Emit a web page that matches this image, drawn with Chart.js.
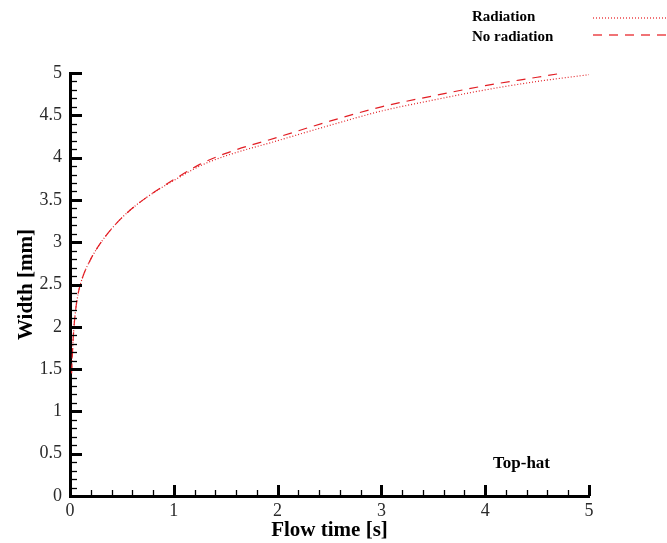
<!DOCTYPE html>
<html>
<head>
<meta charset="utf-8">
<script src="https://cdn.jsdelivr.net/npm/chart.js@4.4.1/dist/chart.umd.min.js"></script>
<style>
  html, body { margin: 0; padding: 0; background: #fff; }
  #wrap { width: 667px; height: 543px; }
</style>
</head>
<body>
<div id="wrap"><canvas id="widthChart" width="667" height="543"></canvas></div>
<script>
// flow time [s] and width [mm]
var timeRad = [0.015, 0.03, 0.05, 0.08, 0.12, 0.2, 0.3, 0.43, 0.58, 0.75, 1, 1.25, 1.5, 2, 2.5, 3, 3.5, 4, 4.5, 5];
var widthRad = [1.45, 1.85, 2.15, 2.4, 2.58, 2.8, 3.0, 3.2, 3.38, 3.54, 3.73, 3.9, 4.02, 4.2, 4.38, 4.55, 4.68, 4.8, 4.9, 4.98];

var timeNoRad = [0.015, 0.03, 0.05, 0.08, 0.12, 0.2, 0.3, 0.43, 0.58, 0.75, 1, 1.25, 1.5, 2, 2.5, 3, 3.5, 4, 4.5, 4.75];
var widthNoRad = [1.45, 1.85, 2.15, 2.4, 2.58, 2.8, 3.0, 3.2, 3.38, 3.54, 3.74, 3.92, 4.05, 4.24, 4.43, 4.6, 4.73, 4.85, 4.95, 5.0];

var seriesNames = ["Radiation", "No radiation"];
var xTicks = [0, 1, 2, 3, 4, 5];
var yTicks = [0, 0.5, 1, 1.5, 2, 2.5, 3, 3.5, 4, 4.5, 5];

var RED = 'rgb(226, 30, 36)';
var SERIF = '"Liberation Serif", "Times New Roman", serif';

function pairs(xs, ys) {
    return xs.map(function (x, i) { return {x: x, y: ys[i]}; });
}

// inward major/minor ticks, legend and the annotation
var decor = {
    id: 'decor',
    afterDraw: function (chart) {
        var ctx = chart.ctx;
        var xs = chart.scales.x, ys = chart.scales.y;
        var area = chart.chartArea;
        ctx.save();
        ctx.strokeStyle = '#000';
        var i, v, p, major;
        for (i = 0; i <= 25; i++) {
            v = i * 0.2;
            major = i % 5 === 0;
            p = Math.round(xs.getPixelForValue(v)) + 0.5;
            ctx.lineWidth = major ? 3 : 1.3;
            ctx.beginPath();
            ctx.moveTo(p, area.bottom);
            ctx.lineTo(p, area.bottom - (major ? 11 : 6));
            ctx.stroke();
        }
        for (i = 0; i <= 50; i++) {
            v = i * 0.1;
            major = i % 5 === 0;
            p = Math.round(ys.getPixelForValue(v)) + 0.5;
            ctx.lineWidth = major ? 3 : 1.3;
            ctx.beginPath();
            ctx.moveTo(area.left, p);
            ctx.lineTo(area.left + (major ? 12 : 7), p);
            ctx.stroke();
        }

        // legend
        ctx.fillStyle = '#000';
        ctx.font = 'bold 15px ' + SERIF;
        ctx.textBaseline = 'middle';
        ctx.textAlign = 'left';
        ctx.fillText(seriesNames[0], 472, 17);
        ctx.fillText(seriesNames[1], 472, 37);
        ctx.strokeStyle = 'rgb(236, 70, 74)';
        ctx.lineWidth = 1.3;
        ctx.setLineDash([1, 2]);
        ctx.beginPath();
        ctx.moveTo(593, 18);
        ctx.lineTo(667, 18);
        ctx.stroke();
        ctx.setLineDash([9, 7]);
        ctx.beginPath();
        ctx.moveTo(593, 35);
        ctx.lineTo(667, 35);
        ctx.stroke();
        ctx.setLineDash([]);

        ctx.fillStyle = '#000';
        ctx.font = 'bold 17px ' + SERIF;
        ctx.fillText('Top-hat', 493, 464);
        ctx.restore();
    }
};

var ctxW = document.getElementById('widthChart').getContext('2d');
var widthChart = new Chart(ctxW, {
    type: 'line',
    data: {
        datasets: [{
            label: seriesNames[0],
            data: pairs(timeRad, widthRad),
            borderColor: RED,
            borderWidth: 1.2,
            borderDash: [1, 2],
            pointRadius: 0,
            cubicInterpolationMode: 'monotone',
            fill: false
        }, {
            label: seriesNames[1],
            data: pairs(timeNoRad, widthNoRad),
            borderColor: RED,
            borderWidth: 1.2,
            borderDash: [9, 7],
            pointRadius: 0,
            cubicInterpolationMode: 'monotone',
            fill: false
        }]
    },
    options: {
        responsive: false,
        animation: false,
        layout: { padding: { top: 73, right: 78, left: 0, bottom: 0 } },
        plugins: {
            legend: { display: false },
            tooltip: { enabled: false }
        },
        scales: {
            x: {
                type: 'linear',
                min: 0,
                max: 5,
                afterFit: function (s) { s.height = 47; },
                afterBuildTicks: function (s) { s.ticks = xTicks.map(function (v) { return {value: v}; }); },
                grid: { display: false, drawTicks: false },
                border: { display: true, color: '#000', width: 3 },
                ticks: {
                    padding: 4,
                    color: '#2a2a2a',
                    font: { family: SERIF, size: 18 },
                    callback: function (v) { return String(v); }
                },
                title: {
                    display: true,
                    text: 'Flow time [s]',
                    color: '#000',
                    padding: { top: 3, bottom: 0 },
                    font: { family: SERIF, size: 21, weight: 'bold' }
                }
            },
            y: {
                min: 0,
                max: 5,
                afterFit: function (s) { s.width = 70; },
                afterBuildTicks: function (s) { s.ticks = yTicks.map(function (v) { return {value: v}; }); },
                grid: { display: false, drawTicks: false },
                border: { display: true, color: '#000', width: 3 },
                ticks: {
                    padding: 8,
                    color: '#2a2a2a',
                    font: { family: SERIF, size: 18 },
                    callback: function (v) { return String(v); }
                },
                title: {
                    display: true,
                    text: 'Width [mm]',
                    color: '#000',
                    padding: { top: 14, bottom: 4 },
                    font: { family: SERIF, size: 21, weight: 'bold' }
                }
            }
        }
    },
    plugins: [decor]
});
</script>
</body>
</html>
